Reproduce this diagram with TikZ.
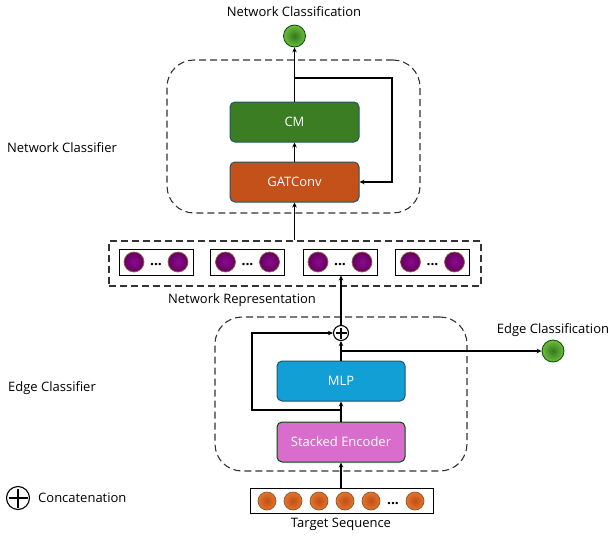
\documentclass[tikz,border=0pt]{standalone}
\usepackage{fontspec}
\setmainfont{Open Sans}
\usetikzlibrary{arrows.meta}
\definecolor{cmgreen}{HTML}{3A7D22}
\definecolor{gatorange}{HTML}{C4501A}
\definecolor{mlpblue}{HTML}{119FD6}
\definecolor{sepink}{HTML}{D86DCD}
\definecolor{tealedge}{HTML}{1F5468}
\definecolor{dashgray}{HTML}{333333}
\begin{document}
\begin{tikzpicture}[x=1pt,y=-1pt,
  font=\fontsize{13}{15}\selectfont,
  block/.style={rectangle, rounded corners=5pt, minimum width=129pt, minimum height=40pt, inner sep=0pt, text=white, line width=1pt},
  dashbox/.style={rectangle, draw=dashgray, dash pattern=on 7pt off 4pt, line width=1.1pt, rounded corners=27pt, inner sep=0pt},
  wire/.style={line width=1.2pt},
  arr/.style={wire, -{Stealth[length=5pt,width=4.5pt]}},
  greendot/.style={circle, draw=black!70!green, line width=0.8pt, inner sep=0pt, minimum size=22pt, inner color={rgb,255:red,50;green,120;blue,30}, outer color={rgb,255:red,110;green,190;blue,60}},
  purpdot/.style={circle, draw=brown!80!black, line width=0.7pt, inner sep=0pt, minimum size=20pt, inner color={rgb,255:red,140;green,10;blue,140}, outer color={rgb,255:red,100;green,0;blue,100}},
  orgdot/.style={circle, draw=brown!70!black, line width=0.7pt, inner sep=0pt, minimum size=18pt, inner color={rgb,255:red,190;green,80;blue,20}, outer color={rgb,255:red,230;green,115;blue,45}},
  repbox/.style={rectangle, draw=black, line width=1pt, minimum width=74pt, minimum height=26pt, inner sep=0pt},
  dots/.style={inner sep=0pt, font=\fontsize{14}{15}\selectfont\bfseries},
  plussym/.style={circle, draw=black, line width=1.1pt, inner sep=0pt, fill=white,
    path picture={\draw[line width=1.1pt] ([yshift=-2pt]path picture bounding box.north) -- ([yshift=2pt]path picture bounding box.south) ([xshift=2pt]path picture bounding box.west) -- ([xshift=-2pt]path picture bounding box.east);}},
  lbl/.style={inner sep=0pt}
]
\useasboundingbox (0,0) rectangle (615,538);

% dashed containers
\node[dashbox, minimum width=253pt, minimum height=153pt] (ncbox) at (293.5,136.5) {};
\node[dashbox, minimum width=252pt, minimum height=154pt] (ecbox) at (341,394) {};
\node[dashbox, rounded corners=0pt, minimum width=372pt, minimum height=45pt] (nr) at (295,263.5) {};

% blocks
\node[block, fill=cmgreen, draw=tealedge] (cm) at (294.5,122) {CM};
\node[block, fill=gatorange, draw=tealedge] (gat) at (294.5,182) {GATConv};
\node[block, fill=mlpblue, draw=tealedge, minimum width=128pt] (mlp) at (341,381) {MLP};
\node[block, fill=sepink, draw=green!30!black, minimum width=128pt] (se) at (341,442) {Stacked Encoder};

% output dots
\node[greendot] (nc) at (294.5,36) {};
\node[greendot] (ec) at (553,351) {};

% network representation
\foreach \i/\cx in {1/156,2/247.5,3/340,4/432.5}{
  \node[repbox] (b\i) at (\cx,262) {};
  \node[purpdot] (b\i l) at (\cx-22,262) {};
  \node[purpdot] (b\i r) at (\cx+22,262) {};
  \node[dots] (b\i d) at (\cx,265) {...};
}

% target sequence
\node[repbox, minimum width=183pt, minimum height=25pt] (ts) at (341.5,500.5) {};
\foreach \i/\cx in {1/267,2/293,3/319,4/345,5/371,6/415}{
  \node[orgdot] (t\i) at (\cx,501) {};
}
\node[dots] (td) at (393,504) {...};

% concatenation node
\node[plussym, minimum size=15pt] (plus) at (341,333) {};

% connectors
\draw[arr] (gat) -- (cm);
\draw[arr] (cm.north) -- (nc);
\coordinate (fb) at (294.5,78);
\coordinate (fbc) at (392,78);
\draw[arr] (fb) -- (fbc) |- (gat.east);
\draw[arr] (gat.south |- nr.north) -- (gat.south);
\draw[arr] (ts.north -| se.south) -- (se.south);
\draw[arr] (se) -- (mlp);
\draw[arr] (mlp.north) -- (plus.south);
\coordinate (sk) at (341,410);
\coordinate (skc) at (252,410);
\draw[arr] (sk) -- (skc) |- (plus.west);
\coordinate (eo) at (341,351);
\draw[arr] (eo) -- (ec.west);
\draw[arr] (plus.north) -- (plus.north |- b3.south);

% labels
\node[lbl] (ncl) at (294,12) {Network Classification};
\node[lbl] (ecl) at (553,330) {Edge Classification};
\node[lbl] (nrl) at (242,300) {Network Representation};
\node[lbl] (ncfl) at (62,148) {Network Classifier};
\node[lbl] (ecfl) at (52,388) {Edge Classifier};
\node[lbl] (tsl) at (341,524) {Target Sequence};

% legend
\node[plussym, minimum size=23pt] (legplus) at (18,498) {};
\node[lbl, anchor=west] (legl) at (38,498) {Concatenation};
\end{tikzpicture}
\end{document}
